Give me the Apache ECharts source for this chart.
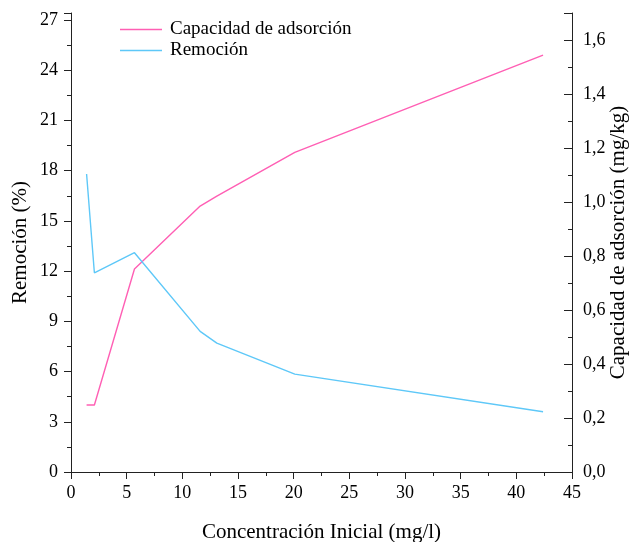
<!DOCTYPE html>
<html>
<head>
<meta charset="utf-8">
<script src="https://cdn.jsdelivr.net/npm/echarts@6/dist/echarts.min.js"></script>
<style>
  html, body { margin: 0; padding: 0; background: #fff; }
  #main { width: 635px; height: 542px; }
</style>
</head>
<body>
<div id="main"></div>
<script>
// datos
var concentracion = [1.4, 2.1, 5.7, 11.6, 13.1, 20.1, 42.4];
var remocion = [17.8, 11.9, 13.1, 8.4, 7.7, 5.85, 3.6];
var capacidad = [0.248, 0.248, 0.752, 0.985, 1.022, 1.184, 1.544];

var fuente = 'Liberation Serif';
var eje = '#222';

function pares(xs, ys) {
    var out = [];
    for (var i = 0; i < xs.length; i++) out.push([xs[i], ys[i]]);
    return out;
}

var myChart = echarts.init(document.getElementById('main'));

var option = {
    animation: false,
    backgroundColor: '#fff',
    textStyle: { fontFamily: fuente },
    grid: { left: 71, right: 63, top: 13, bottom: 70, outerBoundsMode: 'none', containLabel: false },
    legend: {
        orient: 'vertical',
        left: 120,
        top: 20,
        padding: 0,
        icon: 'rect',
        itemWidth: 42,
        itemHeight: 1.5,
        itemGap: 2,
        data: ['Capacidad de adsorción', 'Remoción'],
        textStyle: { fontFamily: fuente, fontSize: 19, color: '#000', lineHeight: 19, padding: [0, 0, 0, 3] }
    },
    xAxis: {
        type: 'value',
        min: 0,
        max: 45,
        interval: 5,
        name: 'Concentración Inicial (mg/l)',
        nameLocation: 'middle',
        nameGap: 50,
        nameTextStyle: { fontFamily: fuente, fontSize: 21, color: '#000' },
        axisLine: { lineStyle: { color: eje, width: 1 } },
        axisTick: { length: 7, lineStyle: { color: eje } },
        minorTick: { show: true, splitNumber: 2, length: 4, lineStyle: { color: eje } },
        axisLabel: { fontFamily: fuente, fontSize: 18, color: '#000', margin: 12 },
        splitLine: { show: false }
    },
    yAxis: [{
        type: 'value',
        position: 'left',
        min: 0,
        max: 27.42,
        interval: 3,
        name: 'Remoción (%)',
        nameLocation: 'middle',
        nameGap: 40,
        nameMoveOverlap: false,
        nameTextStyle: { fontFamily: fuente, fontSize: 21, color: '#000' },
        axisLine: { show: true, lineStyle: { color: eje, width: 1 } },
        axisTick: { show: true, length: 7, lineStyle: { color: eje } },
        minorTick: { show: true, splitNumber: 2, length: 4, lineStyle: { color: eje } },
        axisLabel: {
            fontFamily: fuente, fontSize: 18, color: '#000', margin: 13,
            showMaxLabel: false
        },
        splitLine: { show: false }
    }, {
        type: 'value',
        position: 'right',
        min: 0,
        max: 1.7,
        interval: 0.2,
        name: 'Capacidad de adsorción (mg/kg)',
        nameLocation: 'middle',
        nameGap: 36,
        nameMoveOverlap: false,
        nameRotate: 90,
        nameTextStyle: { fontFamily: fuente, fontSize: 21, color: '#000' },
        axisLine: { show: true, lineStyle: { color: eje, width: 1 } },
        axisTick: { show: true, inside: true, length: 8, lineStyle: { color: eje } },
        minorTick: { show: true, splitNumber: 2, length: 4, lineStyle: { color: eje } },
        axisLabel: {
            fontFamily: fuente, fontSize: 18, color: '#000', margin: 11,
            showMaxLabel: false,
            formatter: function (v) { return v.toFixed(1).replace('.', ','); }
        },
        splitLine: { show: false }
    }],
    series: [{
        name: 'Capacidad de adsorción',
        type: 'line',
        yAxisIndex: 1,
        symbol: 'none',
        data: pares(concentracion, capacidad),
        color: '#ff5fb4',
        lineStyle: { width: 1.4 }
    }, {
        name: 'Remoción',
        type: 'line',
        yAxisIndex: 0,
        symbol: 'none',
        data: pares(concentracion, remocion),
        color: '#5ec8f8',
        lineStyle: { width: 1.4 }
    }]
};

myChart.setOption(option);
</script>
</body>
</html>
